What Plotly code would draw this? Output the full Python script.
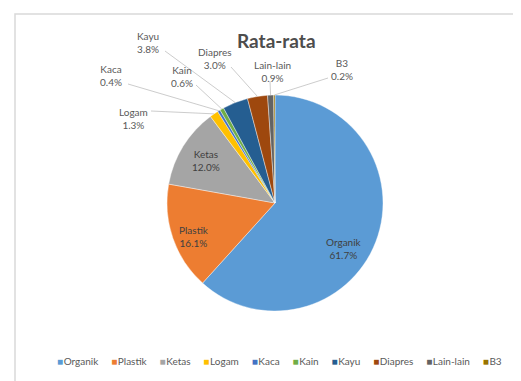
import math
import plotly.graph_objects as go

# ---- data ----
categories = ["Organik", "Plastik", "Ketas", "Logam", "Kaca", "Kain", "Kayu", "Diapres", "Lain-lain", "B3"]
values = [61.7, 16.1, 12.0, 1.3, 0.4, 0.6, 3.8, 3.0, 0.9, 0.2]
title_text = "Rata-rata"

# ---- style ----
colors = ["#5B9BD5", "#ED7D31", "#A5A5A5", "#FFC000", "#4472C4", "#70AD47",
          "#255E91", "#9E480E", "#636363", "#997300"]
W, H = 521, 381
CX, CY, R = 267, 195, 108  # pie centre / radius in pixels
FONT = "Lato"
TXT = "#595959"

# label placement (pixels): text centre, and leader start (None = inside label)
label_pos = {
    "Organik": ((336, 241), None),
    "Plastik": ((186, 228), None),
    "Ketas": ((198, 152), None),
    "Logam": ((125, 110), (143, 103)),
    "Kaca": ((103, 67), (120, 76)),
    "Kain": ((174, 68), (188, 77)),
    "Kayu": ((140, 34), (157, 43)),
    "Diapres": ((207, 51), (223, 59)),
    "Lain-lain": ((264, 63), (262, 73)),
    "B3": ((334, 61), (320, 70)),
}


def px(x):
    return x / W


def py(y):
    return 1 - y / H


fig = go.Figure()
fig.add_trace(go.Pie(
    labels=categories, values=values, sort=False, direction="clockwise", rotation=0,
    marker=dict(colors=colors, line=dict(color="white", width=0.4)),
    textinfo="none", textposition="none", hoverinfo="label+percent",
    showlegend=False,
    domain=dict(x=[px(CX - R), px(CX + R)], y=[py(CY + R), py(CY - R)]),
))

annotations = []
shapes = []
total = sum(values)
cum = 0.0
for cat, v in zip(categories, values):
    mid = (cum + v / 2) / total * 2 * math.pi
    cum += v
    rim_x = CX + R * math.sin(mid)
    rim_y = CY - R * math.cos(mid)
    (tx, ty), start = label_pos[cat]
    annotations.append(dict(
        x=px(tx), y=py(ty), xref="paper", yref="paper", showarrow=False,
        text=f"{cat}<br>{v:.1f}%", align="center",
        font=dict(family=FONT, size=10, color="#404040" if start is None else TXT),
        xanchor="center", yanchor="middle"))
    if start is not None:
        sx, sy = start
        shapes.append(dict(type="path", xref="paper", yref="paper",
                           path=f"M {px(sx)} {py(sy)} L {px(rim_x)} {py(rim_y)}",
                           line=dict(color="#BFBFBF", width=0.8)))

# legend built as a single text line
legend_parts = [f'<span style="color:{c}">■</span>&#8202;{cat}' for cat, c in zip(categories, colors)]
annotations.append(dict(
    x=px(271), y=py(353), xref="paper", yref="paper", showarrow=False,
    text="&nbsp;&nbsp;&nbsp;&nbsp;&nbsp;".join(legend_parts),
    font=dict(family=FONT, size=10, color=TXT), xanchor="center", yanchor="middle"))

# title
annotations.append(dict(
    x=px(268), y=py(33), xref="paper", yref="paper", showarrow=False,
    text=f"<b>{title_text}</b>", font=dict(family=FONT, size=19, color="#4D4D4D"),
    xanchor="center", yanchor="middle"))

# chart border (top and left visible)
shapes.append(dict(type="path", xref="paper", yref="paper",
                   path=f"M {px(7)} {py(381)} L {px(7)} {py(6)} L {px(521)} {py(6)}",
                   line=dict(color="#D9D9D9", width=1.5)))

fig.update_layout(
    width=W, height=H, autosize=False,
    margin=dict(l=0, r=0, t=0, b=0),
    paper_bgcolor="white", plot_bgcolor="white",
    annotations=annotations, shapes=shapes,
)

fig.write_html("out.html")
